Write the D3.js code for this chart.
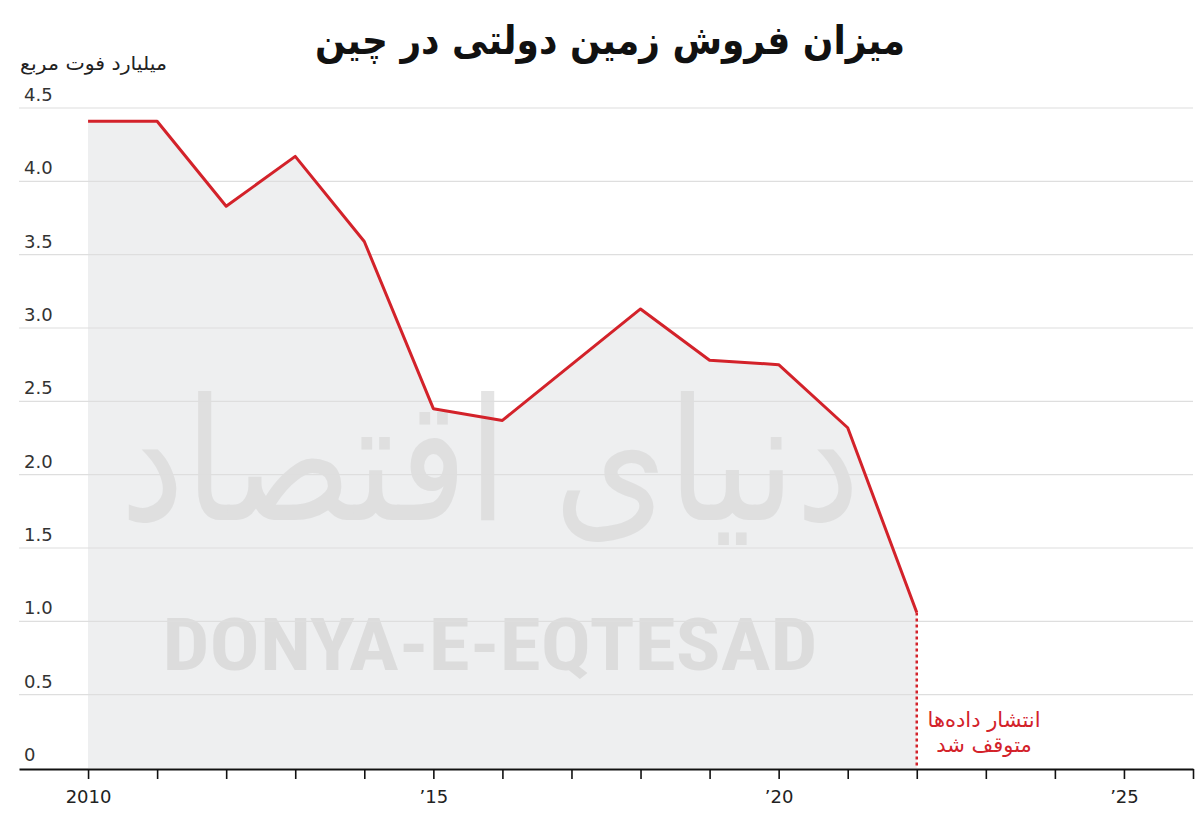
<!DOCTYPE html>
<html><head><meta charset="utf-8">
<script src="https://cdn.jsdelivr.net/npm/d3@7"></script>
<style>
html,body{margin:0;padding:0;background:#fff;}
svg text{font-family:"DejaVu Sans","Noto Sans",sans-serif;}
</style></head>
<body><svg id="c" width="1200" height="836"></svg>
<script>
const years = [2010,2011,2012,2013,2014,2015,2016,2017,2018,2019,2020,2021,2022];
const values = [4.41,4.41,3.83,4.17,3.59,2.45,2.37,2.75,3.13,2.78,2.75,2.32,1.06];
const yTicks = [0,0.5,1.0,1.5,2.0,2.5,3.0,3.5,4.0,4.5];
const xTicks = [2010,2011,2012,2013,2014,2015,2016,2017,2018,2019,2020,2021,2022,2023,2024,2025,2026];
const xLabels = {2010:"2010",2015:"\u201915",2020:"\u201920",2025:"\u201925"};
const title = "میزان فروش زمین دولتی در چین";
const unitLabel = "میلیارد فوت مربع";
const noteLines = ["انتشار داده‌ها","متوقف شد"];

const svg = d3.select("#c");
const x = d3.scaleLinear().domain([2009,2026]).range([19,1193]);
const y = d3.scaleLinear().domain([0,4.5]).range([768,108]);
const red = "#d3222a";

// area
svg.append("path").datum(years.map((d,i)=>[d,values[i]]))
  .attr("fill","#eeeff0")
  .attr("d",d3.area().x(d=>x(d[0])).y0(y(0)).y1(d=>y(d[1])));

// watermark
svg.append("text").attr("x",490).attr("y",670).attr("text-anchor","middle")
  .style("font-family","'Liberation Sans Narrow','Roboto Condensed','Liberation Sans',sans-serif")
  .attr("font-weight","bold").attr("font-size",72).attr("fill","#dcdcdc")
  .attr("textLength",655).attr("lengthAdjust","spacingAndGlyphs")
  .text("DONYA-E-EQTESAD");
svg.append("text").attr("x",490).attr("y",520).attr("text-anchor","middle")
  .attr("font-size",170).attr("fill","#d9d9d9").attr("opacity",0.7)
  .attr("textLength",740).attr("lengthAdjust","spacingAndGlyphs")
  .text("دنیای اقتصاد");

// grid
svg.append("g").selectAll("line").data(yTicks.filter(d=>d>0)).join("line")
  .attr("x1",19).attr("x2",1193).attr("y1",d=>y(d)).attr("y2",d=>y(d))
  .attr("stroke","#dedede").attr("stroke-width",1.2);

// y labels
svg.append("g").selectAll("text").data(yTicks).join("text")
  .attr("x",24).attr("y",d=>y(d)-7).attr("font-size",18).attr("fill","#333")
  .text(d=>d===0?"0":d.toFixed(1));

// unit label
svg.append("text").attr("x",20).attr("y",70).attr("font-size",19).attr("fill","#222")
  .attr("text-anchor","start").attr("textLength",147).attr("lengthAdjust","spacingAndGlyphs")
  .text(unitLabel);

// title
svg.append("text").attr("x",610).attr("y",54).attr("text-anchor","middle")
  .attr("font-size",40).attr("font-weight","bold").attr("fill","#111")
  .attr("textLength",590).attr("lengthAdjust","spacingAndGlyphs").text(title);

// dotted line
const last = years.length-1;
svg.append("line").attr("x1",x(years[last])).attr("x2",x(years[last]))
  .attr("y1",y(values[last])).attr("y2",y(0))
  .attr("stroke",red).attr("stroke-width",2.5).attr("stroke-dasharray","3,3");

// line
svg.append("path").datum(years.map((d,i)=>[d,values[i]]))
  .attr("fill","none").attr("stroke",red).attr("stroke-width",3).attr("stroke-linejoin","round")
  .attr("d",d3.line().x(d=>x(d[0])).y(d=>y(d[1])));

// x axis
const xa = svg.append("g").attr("transform","translate(0,769)")
  .call(d3.axisBottom(x).tickValues(xTicks).tickSize(10).tickSizeOuter(0)
    .tickFormat(d=>xLabels[d]||""));
xa.select(".domain").attr("stroke","#111").attr("stroke-width",2);
xa.selectAll(".tick line").attr("stroke","#111").attr("stroke-width",1.6);
xa.selectAll(".tick text").attr("font-size",18).attr("fill","#222").attr("dy","1.15em")
  .style("font-family","'DejaVu Sans',sans-serif");

// note
svg.append("g").selectAll("text").data(noteLines).join("text")
  .attr("x",984).attr("y",(d,i)=>727+i*25).attr("text-anchor","middle")
  .attr("font-size",21).attr("fill",red).text(d=>d);
</script></body></html>
